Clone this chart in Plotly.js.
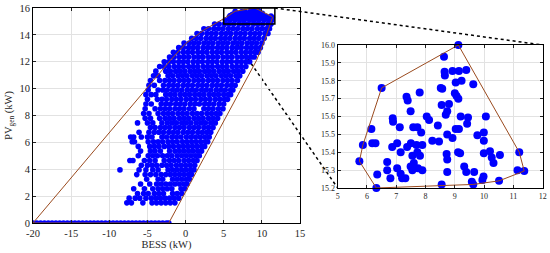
<!DOCTYPE html>
<html>
<head>
<meta charset="utf-8">
<script src="https://cdn.plot.ly/plotly-3.0.1.min.js"></script>
<style>body{margin:0;background:#fff}#chart{width:550px;height:253px}</style>
</head>
<body>
<div id="chart"></div>
<script>
// operating points, BESS power vs PV generation (kW)

// points lying on PV = 0
var zeroBess = [-20,-19.5,-19,-18.5,-18,-17.5,-17,-16.5,-16,-15.5,-15,-14.5,-14,-13.5,-13,-12.5,-12,-11.5,
  -11,-10.5,-10,-9.5,-9,-8.5,-8,-7.5,-7,-6.5,-6,-5.5,-5,-4.5,-4,-3.5,-3,-2.5,-2.2];

// main cloud, one row of BESS values per PV level
var cloudPv = [1.5,1.85,2.2,2.55,2.9,3.25,3.6,3.95,4.3,4.65,5.0,5.35,5.7,6.05,6.4,6.75,7.1,7.45,7.8,8.15,
  8.5,8.85,9.2,9.55,9.9,10.25,10.6,10.95,11.3,11.65,12.0,12.35,12.7,13.05,13.4,13.75,14.1,14.45,14.8,15.1];
var cloudBess = [
  [-7.7,-7.1,-5.6,-4.4,-3.8,-3.2,-2.6,-2.0,-1.4],
  [-7.4,-6.6,-6.0,-5.2,-4.5,-3.9,-3.3,-2.7,-2.1,-1.5,-0.9],
  [-6.3,-5.5,-4.9,-4.1,-3.5,-2.9,-1.7,-1.1,-0.5],
  [-6.8,-5.4,-4.3,-3.6,-3.0,-2.4,-1.8,-0.6,-0.1],
  [-5.9,-4.7,-3.8,-3.2,-2.6,-2.0,-1.4,-0.8,-0.2,0.2],
  [-5.1,-3.6,-3.0,-1.7,-1.1,-0.5,0.1,0.5],
  [-6.4,-5.3,-4.6,-3.9,-3.2,-2.6,-2.0,-1.4,-0.8,-0.2,0.4,0.8],
  [-8.6,-6.1,-5.2,-4.3,-3.6,-2.3,-1.7,-1.1,-0.5,0.1,0.7,1.1],
  [-5.8,-5.0,-4.4,-3.8,-3.1,-2.5,-1.9,-1.2,-0.6,0.0,0.6,1.2],
  [-7.3,-6.9,-5.4,-4.7,-4.0,-2.8,-2.1,-1.5,-0.9,-0.2,0.4,1.0,1.5],
  [-6.2,-4.9,-4.3,-3.7,-3.0,-2.4,-1.8,-1.1,-0.5,0.1,0.7,1.3,1.8],
  [-5.9,-4.6,-4.0,-3.3,-2.1,-1.4,-0.8,-0.2,0.4,1.0,1.6,2.1],
  [-6.2,-4.7,-4.1,-3.5,-2.8,-2.2,-1.6,-0.9,-0.3,0.3,0.9,1.5,2.1,2.5],
  [-7.0,-6.7,-4.9,-4.2,-3.6,-3.0,-2.3,-1.7,-1.1,-0.4,0.2,0.8,1.4,2.0,2.6,2.9],
  [-7.2,-6.8,-5.8,-5.0,-4.4,-3.1,-2.5,-1.8,-1.2,-0.6,0.1,0.7,1.3,1.9,2.5,3.1],
  [-6.1,-4.8,-4.1,-3.5,-2.9,-2.2,-1.6,-1.0,-0.3,0.3,0.9,1.6,2.2,2.8,3.3],
  [-4.6,-4.0,-3.3,-2.7,-2.1,-1.4,-0.8,-0.2,0.5,1.1,1.7,2.4,3.0,3.6],
  [-6.3,-5.0,-4.3,-3.1,-2.4,-1.8,-1.2,-0.5,0.1,0.7,1.4,2.0,2.6,3.3,3.9],
  [-5.3,-4.6,-3.4,-2.7,-2.1,-1.5,-0.8,-0.2,0.4,1.1,1.7,2.3,3.0,3.6,4.2],
  [-5.5,-4.8,-3.6,-2.9,-2.3,-1.7,-1.0,-0.4,0.2,0.9,1.5,2.1,2.8,3.4,4.0,4.5],
  [-5.3,-4.0,-3.3,-2.7,-2.1,-1.4,-0.8,-0.2,0.5,1.1,2.4,3.0,3.6,4.3,4.9],
  [-5.2,-4.5,-3.2,-2.6,-2.0,-1.3,-0.7,-0.1,0.6,1.2,1.8,2.5,3.1,3.7,4.4,5.0],
  [-5.0,-3.7,-3.1,-2.5,-1.8,-1.2,-0.6,0.1,0.7,1.3,2.0,2.6,3.2,3.9,4.5,5.1,5.5],
  [-5.2,-4.5,-3.9,-2.6,-2.0,-1.4,-0.7,-0.1,0.5,1.2,1.8,2.4,3.1,3.7,4.3,5.0,5.6,5.9],
  [-4.9,-3.6,-3.0,-2.4,-1.7,-1.1,-0.5,0.2,0.8,1.4,2.1,2.7,3.3,4.0,4.6,5.2,5.9,6.2],
  [-4.8,-4.1,-2.9,-2.2,-1.6,-1.0,-0.3,0.3,0.9,1.6,2.2,2.8,3.5,4.1,4.7,5.4,6.0,6.5],
  [-4.6,-3.4,-2.7,-2.1,-1.5,-0.8,-0.2,0.4,1.1,1.7,2.3,3.0,3.6,4.2,4.9,5.5,6.1,6.8],
  [-4.2,-3.6,-2.3,-1.7,-1.0,-0.4,0.2,0.9,1.5,2.1,2.8,3.4,4.0,4.7,5.3,5.9,6.6,7.1],
  [-3.9,-2.6,-2.0,-1.3,-0.7,-0.1,0.6,1.2,1.8,2.5,3.1,3.7,4.4,5.0,5.6,6.3,6.9,7.5],
  [-3.4,-2.8,-2.2,-1.5,-0.9,-0.3,0.4,1.0,1.6,2.3,2.9,3.5,4.2,4.8,5.4,6.1,6.7,7.3,7.9],
  [-2.8,-2.2,-1.6,-0.9,-0.3,0.3,1.0,1.6,2.2,2.9,3.5,4.1,4.8,5.4,6.0,6.7,7.3,7.9,8.4],
  [-2.1,-1.5,-0.8,-0.2,0.4,1.1,1.7,2.3,3.0,3.6,4.2,4.9,5.5,6.1,6.8,7.4,8.0,8.6,9.0],
  [-1.6,-1.0,-0.3,0.3,0.9,1.6,2.2,2.8,3.5,4.1,4.7,5.4,6.0,6.6,7.3,7.9,8.5,9.1,9.5],
  [-0.9,-0.3,0.4,1.0,1.6,2.3,2.9,3.5,4.2,4.8,5.4,6.1,6.7,7.3,8.0,8.6,9.2,9.8],
  [-0.2,0.5,1.1,1.7,2.4,3.0,3.6,4.3,4.9,5.5,6.2,6.8,7.4,8.1,8.7,9.3,10.0],
  [0.8,1.4,2.0,2.7,3.3,3.9,4.6,5.2,5.8,6.5,7.1,7.7,8.4,9.0,9.6,10.3],
  [1.5,2.1,2.8,3.4,4.0,4.7,5.3,5.9,6.6,7.2,7.8,8.5,9.1,9.7,10.4,10.8],
  [2.4,3.0,3.7,4.3,4.9,5.6,6.2,6.8,7.5,8.1,8.7,9.4,10.0,10.6,11.0],
  [3.8,4.4,5.1,5.7,6.3,7.0,7.6,8.2,8.9,9.5,10.1,10.8,11.2],
  [5.2,5.8,6.5,7.1,7.7,8.4,9.0,9.6,10.3,10.9,11.3]
];

// points in the zoomed window (PV >= 15.2)
var zoomBess = [9.12,8.63,8.65,8.66,8.92,9.14,9.39,9.23,9.03,9.63,6.50,8.52,8.57,9.00,9.06,9.12,7.35,7.39,7.80,8.80,
  8.55,8.74,8.69,7.49,8.04,8.12,6.88,6.89,9.20,9.45,9.42,10.06,6.15,7.12,7.58,7.72,7.85,8.42,9.03,9.14,
  8.74,8.92,9.77,9.99,9.99,5.86,6.18,6.29,6.86,7.03,7.15,7.37,7.50,7.69,8.23,8.46,7.89,5.74,7.55,7.72,
  7.81,8.72,8.74,9.11,9.18,9.99,10.20,10.26,10.32,10.54,11.20,6.69,6.69,7.03,7.15,7.20,7.31,6.80,6.35,6.32,
  7.49,7.55,7.60,7.74,7.89,8.74,9.32,9.39,9.66,9.98,9.94,9.58,9.63,8.55,10.51,11.14,11.37];
var zoomPv = [16.0,15.935,15.85,15.83,15.855,15.855,15.86,15.80,15.79,15.78,15.76,15.76,15.755,15.73,15.715,15.70,15.71,15.69,15.735,15.67,
  15.665,15.63,15.61,15.63,15.60,15.58,15.59,15.57,15.60,15.595,15.56,15.60,15.53,15.54,15.54,15.54,15.51,15.55,15.53,15.53,
  15.50,15.48,15.495,15.51,15.465,15.44,15.45,15.45,15.43,15.45,15.40,15.43,15.45,15.44,15.465,15.46,15.44,15.35,15.38,15.40,
  15.38,15.39,15.36,15.40,15.395,15.395,15.405,15.37,15.34,15.385,15.40,15.345,15.30,15.31,15.28,15.255,15.255,15.255,15.275,15.20,
  15.32,15.30,15.34,15.31,15.30,15.29,15.32,15.29,15.29,15.265,15.245,15.235,15.22,15.22,15.24,15.30,15.295];

// convex hulls
var hullBess = [-20,-2.2,9.3,10.3,11.4,11.2,9.1,6.5,5.0,2.5,0.0,-2.0,-20];
var hullPv = [0,0,12.1,13.5,15.3,15.4,16.0,15.76,15.2,14.4,13.35,12.1,0];
var zoomHullBess = [9.12,6.50,5.86,5.74,6.32,9.63,10.51,11.37,11.20,9.12];
var zoomHullPv = [16.0,15.76,15.44,15.35,15.20,15.22,15.24,15.295,15.40,16.0];

// tick labels (hyphen minus, as in the figure)
var bessTicks = [-20, -15, -10, -5, 0, 5, 10, 15];
var bessTickText = ["-20", "-15", "-10", "-5", "0", "5", "10", "15"];

// zoom window drawn on the main axes
var boxBess = [5, 11.7];
var boxPv = [14.8, 16];

var mainX = [], mainY = [];
zeroBess.forEach(function(b) { mainX.push(b); mainY.push(0); });
cloudPv.forEach(function(p, i) {
  cloudBess[i].forEach(function(b) { mainX.push(b); mainY.push(p); });
});
zoomBess.forEach(function(b, i) { mainX.push(b); mainY.push(zoomPv[i]); });

var serif = "Liberation Serif, Times New Roman, serif";
var blue = "#0000ff";
var brown = "#9a4a1e";

var xd = [0.06, 0.5455], yd = [0.1186, 0.9684];
var xd2 = [0.614, 0.9867], yd2 = [0.2569, 0.8221];
var xr = [-20, 15], yr = [0, 16];

function toPaperX(v) { return xd[0] + (v - xr[0]) / (xr[1] - xr[0]) * (xd[1] - xd[0]); }
function toPaperY(v) { return yd[0] + (v - yr[0]) / (yr[1] - yr[0]) * (yd[1] - yd[0]); }

var data = [
  {x: mainX, y: mainY, type: "scatter", mode: "markers", xaxis: "x", yaxis: "y",
   marker: {color: blue, size: 5.6}, hoverinfo: "skip"},
  {x: hullBess, y: hullPv, type: "scatter", mode: "lines", xaxis: "x", yaxis: "y",
   line: {color: brown, width: 1}},
  {x: zoomBess, y: zoomPv, type: "scatter", mode: "markers", xaxis: "x2", yaxis: "y2",
   marker: {color: blue, size: 8}, cliponaxis: false},
  {x: zoomHullBess, y: zoomHullPv, type: "scatter", mode: "lines", xaxis: "x2", yaxis: "y2",
   line: {color: brown, width: 1}, cliponaxis: false}
];

function axis(extra) {
  var a = {
    showline: true, linecolor: "#000", linewidth: 1, mirror: "allticks",
    ticks: "inside", ticklen: 3, tickcolor: "#222",
    showgrid: true, gridcolor: "#e2e2e2", gridwidth: 1, zeroline: false,
    tickfont: {family: serif, size: 10.5, color: "#262626"}
  };
  for (var k in extra) a[k] = extra[k];
  return a;
}

var layout = {
  width: 550, height: 253,
  margin: {l: 0, r: 0, t: 0, b: 0},
  paper_bgcolor: "#fff",
  plot_bgcolor: "rgba(0,0,0,0)",
  showlegend: false,
  xaxis: axis({domain: xd, range: xr, tickmode: "array", tickvals: bessTicks, ticktext: bessTickText, anchor: "y",
    title: {text: "BESS (kW)", font: {family: serif, size: 10.5, color: "#262626"}, standoff: 2}}),
  yaxis: axis({domain: yd, range: yr, dtick: 2, anchor: "x",
    title: {text: "PV<sub>gen</sub> (kW)", font: {family: serif, size: 10.5, color: "#262626"}, standoff: 4}}),
  xaxis2: axis({domain: xd2, range: [5, 12], dtick: 1, anchor: "y2",
    tickfont: {family: serif, size: 8, color: "#262626"}}),
  yaxis2: axis({domain: yd2, range: [15.2, 16], dtick: 0.1, tickformat: ".1f", anchor: "x2",
    tickfont: {family: serif, size: 8, color: "#262626"}}),
  shapes: [
    {type: "rect", xref: "x", yref: "y", x0: boxBess[0], x1: boxBess[1], y0: boxPv[0], y1: boxPv[1],
     line: {color: "#000", width: 1.5}, layer: "above"},
    {type: "line", xref: "paper", yref: "paper",
     x0: toPaperX(boxBess[1]), y0: toPaperY(boxPv[1]), x1: xd2[1], y1: yd2[1],
     line: {color: "#000", width: 1.5, dash: "dot"}, layer: "below"},
    {type: "line", xref: "paper", yref: "paper",
     x0: toPaperX(boxBess[0]), y0: toPaperY(boxPv[0]), x1: xd2[0], y1: yd2[0],
     line: {color: "#000", width: 1.5, dash: "dot"}, layer: "below"},
    {type: "rect", xref: "paper", yref: "paper", x0: xd2[0], x1: xd2[1], y0: yd2[0], y1: yd2[1],
     fillcolor: "#fff", line: {width: 0}, layer: "below"}
  ]
};

Plotly.newPlot("chart", data, layout, {displayModeBar: false, staticPlot: true});
</script>
</body>
</html>
